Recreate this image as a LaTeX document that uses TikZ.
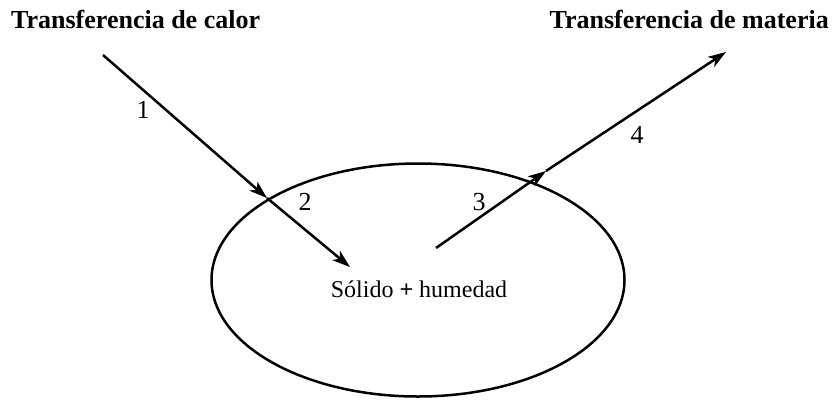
\documentclass[tikz,border=0pt]{standalone}
\usepackage{fontspec}
\setmainfont{Liberation Serif}
\usetikzlibrary{arrows.meta,shapes.geometric}
\begin{document}
\begin{tikzpicture}[x=1pt,y=-1pt,
  flow/.style={line width=2.5pt,-{Stealth[length=18pt,width=12pt,inset=5pt]}},
  title/.style={font=\fontsize{26}{30}\selectfont\bfseries,inner sep=0pt},
  num/.style={font=\fontsize{26}{30}\selectfont,inner sep=0pt},
  body/.style={font=\fontsize{24}{28}\selectfont,inner sep=0pt}]
\useasboundingbox (0,0) rectangle (832,400);
\node[ellipse,draw,line width=2.5pt,minimum width=413pt,minimum height=233pt,inner sep=0pt] (solid) at (418,280) {};
\node[body] (txt) at (419,289) {Sólido \textbf{+} humedad};
\node[title,anchor=west] (tcalor) at (11,19) {Transferencia de calor};
\node[title,anchor=east] (tmat) at (829,19) {Transferencia de materia};
\coordinate (a0) at (103,55);
\coordinate (a1) at (267,198);
\coordinate (a2) at (350,267);
\coordinate (b0) at (436,248);
\coordinate (b1) at (546,171);
\coordinate (b2) at (726,52);
\draw[flow] (a0) -- (a1);
\draw[flow] (a1) -- (a2);
\draw[flow] (b0) -- (b1);
\draw[flow] (b1) -- (b2);
\node[num] (n1) at (143,110) {1};
\node[num] (n2) at (305,202) {2};
\node[num] (n3) at (479,202) {3};
\node[num] (n4) at (637,135) {4};
\end{tikzpicture}
\end{document}
